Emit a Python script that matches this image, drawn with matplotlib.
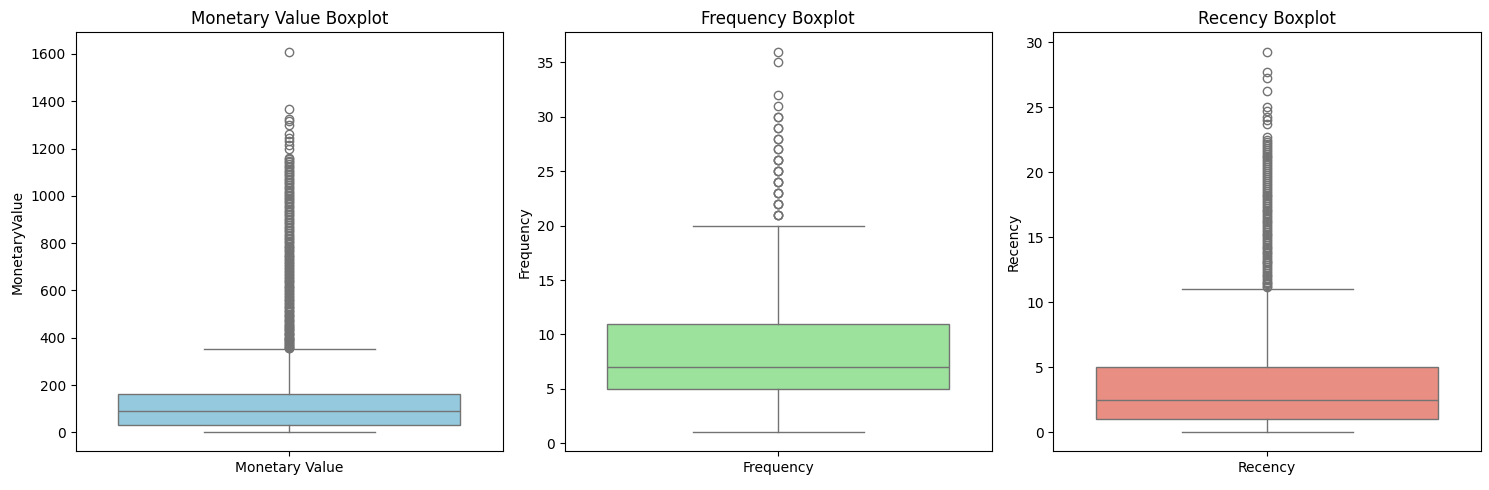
import colorsys
import matplotlib
matplotlib.use('Agg')
import matplotlib.pyplot as plt
import matplotlib.colors as mcolors

TITLES = ['Monetary Value Boxplot', 'Frequency Boxplot', 'Recency Boxplot']
XLABELS = ['Monetary Value', 'Frequency', 'Recency']
YLABELS = ['MonetaryValue', 'Frequency', 'Recency']
COLORS = ['skyblue', 'lightgreen', 'salmon']

# box stats: whislo, q1, median, q3, whishi
monetary_stats = [0, 31, 92, 163, 353]
frequency_stats = [1, 5, 7, 11, 20]
recency_stats = [0, 1, 2.5, 5, 11]

monetary_fliers = [355, 358, 362, 366, 370, 374, 378, 381, 385, 389, 393, 397, 401,
                   405, 410, 414, 418, 422, 427, 431, 436, 440, 445, 450, 455, 460,
                   466, 470, 475, 480, 486, 491, 497, 502, 508, 513, 519, 524, 530,
                   536, 542, 548, 555, 560, 566, 572, 578, 584, 590, 596, 603, 609,
                   615, 621, 628, 634, 640, 646, 652, 658, 665, 671, 678, 684, 690,
                   696, 702, 709, 715, 721, 727, 734, 740, 746, 752, 759, 765, 771,
                   778, 784, 790, 797, 803, 810, 816, 823, 830, 836, 843, 850, 856,
                   863, 870, 877, 884, 890, 897, 903, 910, 917, 924, 931, 938, 944,
                   951, 958, 965, 972, 979, 985, 992, 998, 1005, 1011, 1018, 1025,
                   1032, 1039, 1046, 1053, 1060, 1066, 1073, 1080, 1087, 1093, 1100,
                   1107, 1114, 1121, 1128, 1134, 1141, 1148, 1155, 1162, 1200, 1215,
                   1230, 1246, 1260, 1300, 1318, 1325, 1365, 1610]
# integer counts repeat, which makes the lower circles look heavier
frequency_fliers = [21, 21, 21, 22, 22, 22, 23, 23, 23, 24, 24, 24, 25, 25, 25,
                    26, 26, 26, 27, 27, 28, 28, 29, 29, 30, 30, 31, 32, 35, 36]
recency_fliers = [11.2, 11.3, 11.4, 11.5, 11.6, 11.75, 11.9, 12.0, 12.1, 12.25, 12.4,
                  12.55, 12.7, 12.85, 13.0, 13.1, 13.2, 13.35, 13.5, 13.65, 13.8,
                  13.9, 14.0, 14.15, 14.3, 14.45, 14.6, 14.75, 14.9, 15.05, 15.2,
                  15.3, 15.4, 15.55, 15.7, 15.85, 16.0, 16.15, 16.3, 16.45, 16.6,
                  16.75, 16.9, 17.0, 17.1, 17.25, 17.4, 17.55, 17.7, 17.85, 18.0,
                  18.15, 18.3, 18.45, 18.6, 18.75, 18.9, 19.05, 19.2, 19.35, 19.5,
                  19.65, 19.8, 19.95, 20.1, 20.25, 20.4, 20.55, 20.7, 20.85, 21.0,
                  21.15, 21.3, 21.45, 21.6, 21.75, 21.9, 22.05, 22.2, 22.35, 22.5,
                  22.7, 23.7, 24.0, 24.3, 24.7, 25.0, 26.3, 27.3, 27.7, 29.3]

STATS = [monetary_stats, frequency_stats, recency_stats]
FLIERS = [monetary_fliers, frequency_fliers, recency_fliers]

GRAY = '#737373'


def desaturate(color, prop=0.75):
    # same idea as seaborn's desaturate
    r, g, b = mcolors.to_rgb(color)
    h, l, s = colorsys.rgb_to_hls(r, g, b)
    return colorsys.hls_to_rgb(h, l, s * prop)


fig, axes = plt.subplots(1, 3, figsize=(14.89, 4.9))
fig.subplots_adjust(left=0.0508, right=0.9946, top=0.9337, bottom=0.0786, wspace=0.1438)

for ax, st, fl, col, title, xl, yl in zip(axes, STATS, FLIERS, COLORS, TITLES, XLABELS, YLABELS):
    box = dict(whislo=st[0], q1=st[1], med=st[2], q3=st[3], whishi=st[4], fliers=fl)
    ax.bxp([box], positions=[0], widths=0.8, capwidths=0.4, patch_artist=True,
           boxprops=dict(facecolor=desaturate(col), edgecolor=GRAY, linewidth=1),
           medianprops=dict(color=GRAY, linewidth=1),
           whiskerprops=dict(color=GRAY, linewidth=1),
           capprops=dict(color=GRAY, linewidth=1),
           flierprops=dict(marker='o', markerfacecolor='none', markeredgecolor=GRAY,
                           markersize=6, markeredgewidth=1))
    ax.set_xlim(-0.5, 0.5)
    ax.set_xticks([0])
    ax.set_xticklabels([xl])
    ax.set_ylabel(yl)
    ax.set_title(title)

fig.savefig('out.png', dpi=100)
